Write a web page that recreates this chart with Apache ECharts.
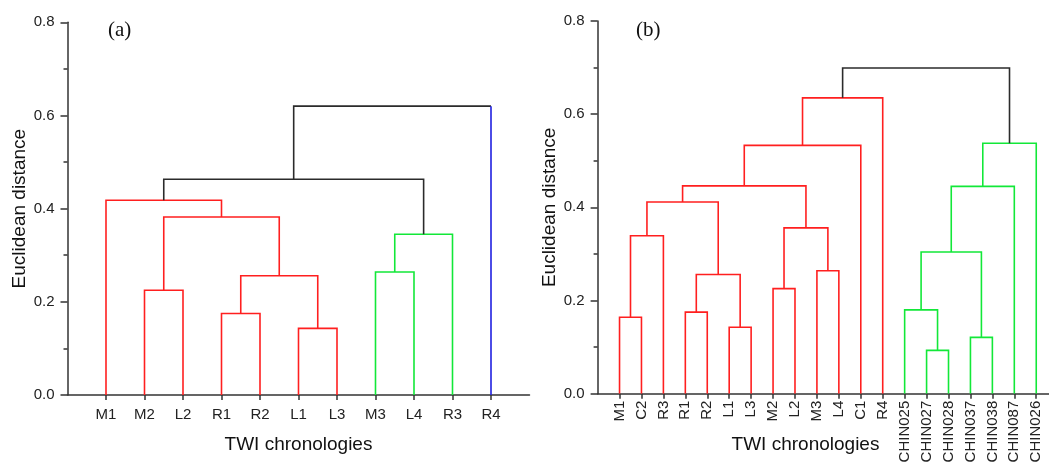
<!DOCTYPE html>
<html>
<head>
<meta charset="utf-8">
<script src="https://cdn.jsdelivr.net/npm/echarts@6/dist/echarts.min.js"></script>
<style>
html,body{margin:0;padding:0;background:#fff;}
#c{width:1049px;height:463px;}
</style>
</head>
<body>
<div id="c"></div>
<script>
// ---------- data ----------
const yTickLabels = ['0.0', '0.2', '0.4', '0.6', '0.8'];

// Panel (a)
const leavesA = ['M1', 'M2', 'L2', 'R1', 'R2', 'L1', 'L3', 'M3', 'L4', 'R3', 'R4'];
// merges: [childA, childB, height]; new nodes numbered from leaves.length
const mergesA = [
  [1, 2, 0.225],
  [3, 4, 0.175],
  [5, 6, 0.143],
  [12, 13, 0.256],
  [11, 14, 0.382],
  [0, 15, 0.418],
  [7, 8, 0.264],
  [17, 9, 0.345],
  [16, 18, 0.463],
  [19, 10, 0.620]
];
const linkGroupA = [1, 1, 1, 1, 1, 1, 2, 2, 0, 0];
const leafGroupA = [1, 1, 1, 1, 1, 1, 1, 2, 2, 2, 3];

// Panel (b)
const leavesB = ['M1', 'C2', 'R3', 'R1', 'R2', 'L1', 'L3', 'M2', 'L2', 'M3', 'L4', 'C1', 'R4',
  'CHIN025', 'CHIN027', 'CHIN028', 'CHIN037', 'CHIN038', 'CHIN087', 'CHIN026'];
const mergesB = [
  [0, 1, 0.164],
  [20, 2, 0.339],
  [3, 4, 0.175],
  [5, 6, 0.1425],
  [22, 23, 0.256],
  [21, 24, 0.4115],
  [7, 8, 0.2255],
  [9, 10, 0.264],
  [26, 27, 0.356],
  [25, 28, 0.446],
  [29, 11, 0.533],
  [30, 12, 0.635],
  [14, 15, 0.093],
  [13, 32, 0.180],
  [16, 17, 0.121],
  [33, 34, 0.304],
  [35, 18, 0.445],
  [36, 19, 0.5375],
  [31, 37, 0.699]
];
const linkGroupB = [1, 1, 1, 1, 1, 1, 1, 1, 1, 1, 1, 1, 2, 2, 2, 2, 2, 2, 0];
const leafGroupB = [1, 1, 1, 1, 1, 1, 1, 1, 1, 1, 1, 1, 1, 2, 2, 2, 2, 2, 2, 2];

// ---------- styles ----------
const groupColors = {0: '#2b2b2b', 1: '#ff1f1f', 2: '#12e838', 3: '#2020e0'};
const LW = 1.6;
const FONT = '"Liberation Sans", Arial, sans-serif';

function buildLinks(leaves, merges, linkGroups, leafGroups) {
  const n = leaves.length;
  const pos = leaves.map((_, i) => i + 1);
  const hgt = leaves.map(() => 0);
  const out = [];
  merges.forEach(([a, b, h], k) => {
    const g = linkGroups[k];
    const col = groupColors[g];
    const cA = (g === 0 && a < n) ? groupColors[leafGroups[a]] : col;
    const cB = (g === 0 && b < n) ? groupColors[leafGroups[b]] : col;
    const pts = [[pos[a], hgt[a]], [pos[a], h], [pos[b], h], [pos[b], hgt[b]]];
    const cols = [cA, col, cB];
    let cur = {coords: [pts[0], pts[1]], color: cols[0]};
    for (let s = 1; s < 3; s++) {
      if (cols[s] === cur.color) cur.coords.push(pts[s + 1]);
      else {
        out.push(cur);
        cur = {coords: [pts[s], pts[s + 1]], color: cols[s]};
      }
    }
    out.push(cur);
    pos[n + k] = (pos[a] + pos[b]) / 2;
    hgt[n + k] = h;
  });
  return out.map(l => ({coords: l.coords, lineStyle: {color: l.color, width: LW, opacity: 1}}));
}

function yAxis(gridIndex) {
  return {
    type: 'value', gridIndex, min: 0, max: 0.8, interval: 0.2,
    name: 'Euclidean distance', nameLocation: 'middle', nameGap: 38, nameRotate: 90,
    nameMoveOverlap: false,
    nameTextStyle: {fontFamily: FONT, fontSize: 19, color: '#111'},
    axisLine: {show: true, lineStyle: {color: '#333', width: 1.5}},
    axisTick: {show: true, length: 7, lineStyle: {color: '#333', width: 1.5}},
    minorTick: {show: true, splitNumber: 2, length: 4, lineStyle: {color: '#333', width: 1.5}},
    splitLine: {show: false},
    axisLabel: {
      fontFamily: FONT, fontSize: 15, color: '#222', margin: 13,
      formatter: v => yTickLabels[Math.round(v / 0.2)]
    }
  };
}

function xAxis(gridIndex, leaves, max, rotate, namePad, nameGap) {
  const vals = leaves.map((_, i) => i + 1);
  return {
    type: 'value', gridIndex, min: 0, max: max,
    name: 'TWI chronologies', nameLocation: 'middle', nameGap: nameGap,
    nameMoveOverlap: false,
    nameTextStyle: {fontFamily: FONT, fontSize: 19, color: '#111', padding: namePad},
    axisLine: {show: true, onZero: false, lineStyle: {color: '#333', width: 1.5}},
    axisTick: {show: true, length: 5, customValues: vals, lineStyle: {color: '#333', width: 1.5}},
    splitLine: {show: false},
    axisLabel: {
      customValues: vals, fontFamily: FONT, fontSize: 15, color: '#222',
      margin: rotate ? 7 : 12, rotate: rotate,
      formatter: v => leaves[Math.round(v) - 1] || ''
    }
  };
}

const chart = echarts.init(document.getElementById('c'), null, {renderer: 'canvas'});
chart.setOption({
  animation: false,
  backgroundColor: '#fff',
  grid: [
    {left: 67.5, top: 22.3, width: 462, height: 372.7, outerBoundsMode: 'none', containLabel: false},
    {left: 597.6, top: 21, width: 451.8, height: 372.7, outerBoundsMode: 'none', containLabel: false}
  ],
  xAxis: [
    xAxis(0, leavesA, 12, 0, [0, 0, 0, 0], 40),
    xAxis(1, leavesB, 20.6, 90, [0, 36, 0, 0], 42)
  ],
  yAxis: [yAxis(0), yAxis(1)],
  graphic: [
    {type: 'text', left: 108, top: 20, style: {text: '(a)', font: '21px "Liberation Serif", "Times New Roman", serif', fill: '#111'}},
    {type: 'text', left: 636, top: 20, style: {text: '(b)', font: '21px "Liberation Serif", "Times New Roman", serif', fill: '#111'}}
  ],
  series: [
    {
      type: 'lines', coordinateSystem: 'cartesian2d', xAxisIndex: 0, yAxisIndex: 0,
      polyline: true, silent: true,
      data: buildLinks(leavesA, mergesA, linkGroupA, leafGroupA)
    },
    {
      type: 'lines', coordinateSystem: 'cartesian2d', xAxisIndex: 1, yAxisIndex: 1,
      polyline: true, silent: true,
      data: buildLinks(leavesB, mergesB, linkGroupB, leafGroupB)
    }
  ]
});
</script>
</body>
</html>
